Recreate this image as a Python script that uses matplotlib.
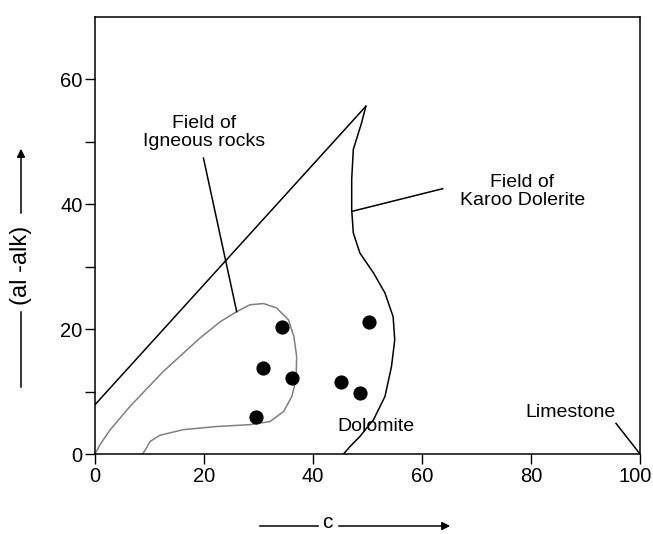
import matplotlib.pyplot as plt
import matplotlib.transforms as mtransforms
import numpy as np

plt.rcParams['font.family'] = ['Liberation Sans', 'DejaVu Sans']

# sample points (c, al-alk)
pts_c = [34.4, 30.9, 36.1, 29.5, 50.3, 45.1, 48.6]
pts_y = [20.4, 13.7, 12.1, 6.0, 21.1, 11.5, 9.8]

# straight boundary line
line_c = [0, 49.7]
line_y = [7.9, 55.7]

# field of Karoo dolerite (right boundary, from tip down to axis)
karoo_c = [49.7, 48.9, 47.4, 47.1, 47.1, 47.4, 48.6, 51.1, 53.2, 54.7, 55.0,
           54.4, 53.2, 51.1, 48.6, 46.8, 45.6]
karoo_y = [55.7, 53.0, 48.8, 44.0, 39.1, 35.4, 32.2, 29.0, 25.8, 22.0, 18.3,
           14.0, 9.2, 5.5, 2.8, 1.2, 0.0]

# field of igneous rocks
ign_c = [0, 1.0, 2.75, 6.4, 12.5, 19.3, 23.0, 26.0, 28.4, 30.9, 33.3, 35.5, 36.5,
         37.0, 36.9, 36.1, 34.6, 32.1, 28.4, 22.3, 16.2, 11.9, 10.1, 9.2, 8.7]
ign_y = [0, 1.6, 3.85, 7.6, 13.2, 18.6, 21.2, 22.8, 23.9, 24.1, 23.4, 21.5, 18.8,
         15.6, 11.9, 9.2, 6.8, 5.2, 4.7, 4.4, 3.9, 3.0, 2.0, 0.6, 0.0]

fig = plt.figure(figsize=(6.53, 5.34), dpi=100)
ax = fig.add_axes([95/653, 1-454/534, (640-95)/653, (454-17)/534])

ax.plot(line_c, line_y, color='black', lw=1.1)
ax.plot(karoo_c, karoo_y, color='black', lw=1.1)
ax.plot(ign_c, ign_y, color='#808080', lw=1.1)
ax.scatter(pts_c, pts_y, s=85, color='black', zorder=3)

# leader lines
ax.plot([19.9, 26.0], [47.4, 22.8], color='black', lw=1.1)
ax.plot([47.3, 63.8], [38.9, 42.5], color='black', lw=1.1)
ax.plot([95.6, 100], [4.9, 0], color='black', lw=1.1)

ax.text(20.0, 51.5, 'Field of\nIgneous rocks', ha='center', va='center',
        fontsize=14, linespacing=1.1)
ax.text(78.4, 42.0, 'Field of\nKaroo Dolerite', ha='center', va='center',
        fontsize=14, linespacing=1.1)
ax.text(51.6, 4.4, 'Dolomite', ha='center', va='center', fontsize=14)
ax.text(87.3, 6.6, 'Limestone', ha='center', va='center', fontsize=14)

ax.set_xlim(0, 100)
ax.set_ylim(0, 70)
ax.set_xticks([0, 20, 40, 60, 80, 100])
ax.set_yticks([0, 20, 40, 60])
ax.set_yticks([10, 30, 50], minor=True)
ax.tick_params(axis='both', which='both', direction='out', length=7, width=1,
               labelsize=14.5, pad=2)
for s in ax.spines.values():
    s.set_linewidth(1.1)

# keep the "100" label inside the figure
last = ax.get_xticklabels()[-1]
last.set_transform(last.get_transform() +
                   mtransforms.ScaledTranslation(-5/100, 0, fig.dpi_scale_trans))

# axis labels with arrows
fig.text(21/653, 1-265/534, '(al -alk)', rotation=90, ha='center', va='center',
         fontsize=17)
fig.add_artist(plt.Line2D([21/653, 21/653], [1-387/534, 1-312/534],
                          color='black', lw=1.1))
ax.annotate('', xy=(21/653, 1-146/534), xytext=(21/653, 1-216/534),
            xycoords='figure fraction',
            arrowprops=dict(arrowstyle='-|>', color='black', lw=1.1,
                            mutation_scale=12))

fig.text(327/653, 1-523/534, 'c', ha='center', va='center', fontsize=15)
fig.add_artist(plt.Line2D([260/653, 318/653], [1-526/534, 1-526/534],
                          color='black', lw=1.1))
ax.annotate('', xy=(453/653, 1-526/534), xytext=(336/653, 1-526/534),
            xycoords='figure fraction',
            arrowprops=dict(arrowstyle='-|>', color='black', lw=1.1,
                            mutation_scale=12))

fig.savefig('out.png', dpi=100)
